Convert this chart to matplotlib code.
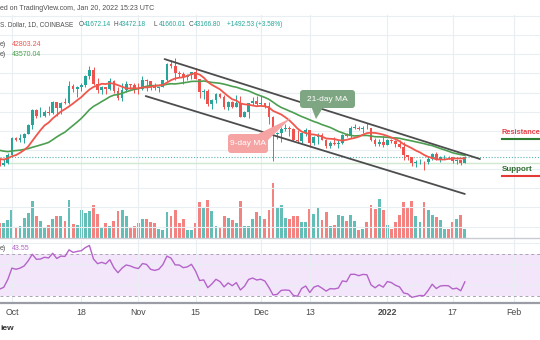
import matplotlib
matplotlib.use("Agg")
import matplotlib.pyplot as plt
import matplotlib.dates as mdates
from matplotlib.patches import FancyBboxPatch, Polygon
import numpy as np
import pandas as pd

plt.rcParams['font.family'] = ['Liberation Sans', 'DejaVu Sans']

# ---------------- data ----------------
# closes before the visible window (warm-up for the moving averages / RSI)
history_start = '2021-08-15'
history_close = [47050, 45950, 44700, 44800, 46700, 49300, 48900, 49300, 49550, 47700,
                 48950, 46850, 49100, 48900, 48800, 46990, 47150,
                 48850, 49300, 50000, 49950, 51750, 52700, 46850, 46100, 46400, 44850,
                 45150, 46050, 44950, 47100, 48150, 47750, 47300, 48300, 47250, 42900,
                 40650, 43550, 44850, 42800, 42700, 43200, 42170]

start_date = '2021-09-28'
close = [41030, 41520, 43790,
         48116, 47711, 48199, 49112, 51514, 55361, 53805, 53967, 54968, 54771, 57484, 56041,
         57401, 57321, 61593, 60892, 61553, 62026, 64262, 65993, 62210, 60693, 61393, 60931,
         63040, 60364, 58483, 60622, 62228, 61889, 61319,
         61004, 63227, 62970, 61453, 61125, 61528, 63327, 67567, 66971, 64995, 64950, 64155,
         64469, 65466, 63557, 60161, 60368, 56942, 58119, 59697, 58730, 56289, 57569, 56281,
         57275, 53569, 54815, 57248, 57807, 56955,
         57229, 56478, 53598, 49200, 49368, 50582, 50700, 50504, 47672, 47243, 49362, 50098,
         46737, 48379, 48864, 47632, 46131, 46834, 46681, 46914, 48890, 48588, 50839, 50850,
         50430, 50800, 50700, 47588, 46444, 47178, 46306,
         47686, 47345, 46458, 45897, 43569, 43160, 41558, 41734, 41912, 41821, 42735, 43949,
         42591, 43099, 43177, 43113, 42250, 42375, 41672.14, 43166.80]
high = [42790, 42600, 44100,
        48450, 48350, 49300, 49500, 51900, 55750, 55800, 56100, 55450, 56550, 57800, 57650,
        57650, 58550, 62900, 62300, 61700, 62600, 64500, 67000, 66650, 63750, 61750, 61500,
        63700, 63300, 61500, 62450, 62950, 62300, 62450,
        62400, 64250, 63500, 63100, 62600, 61550, 63350, 67800, 68550, 69000, 65600, 65450,
        64900, 65500, 66300, 63600, 60800, 60950, 58350, 59850, 60000, 59250, 57850, 57700,
        59400, 59100, 55300, 57400, 58850, 59200,
        59050, 57400, 57600, 53900, 49700, 50900, 51900, 51200, 50800, 50100, 49500, 50750,
        50200, 48650, 49500, 49450, 47950, 47300, 48300, 47500, 49300, 49550, 51350, 51800,
        51150, 51250, 52050, 50700, 48100, 47900, 48550,
        47900, 47950, 47550, 47500, 47050, 43750, 43200, 42300, 42750, 42250, 43050, 44300,
        44450, 43400, 43750, 43450, 43200, 42650, 42500, 43472.18]
low = [40900, 40800, 41400,
       43300, 47400, 47100, 46950, 49100, 50400, 53400, 53650, 53700, 54100, 54450, 53900,
       54300, 56900, 56900, 60200, 58950, 60300, 61400, 63500, 62050, 60000, 59700, 59600,
       60700, 59850, 58100, 57850, 60200, 60800, 59950,
       59550, 60700, 60450, 60700, 60750, 60100, 61400, 63100, 66400, 63400, 64100, 62300,
       63400, 63600, 63450, 58600, 58400, 56500, 55600, 57400, 58500, 55650, 55400, 55850,
       56250, 53500, 53550, 53350, 56750, 56500,
       56500, 55900, 51700, 42000, 47800, 47100, 50050, 48600, 47350, 46900, 46800, 48650,
       45700, 46300, 46600, 47550, 45500, 45600, 46400, 45550, 46650, 48450, 48050, 50450,
       50200, 49500, 50450, 47350, 46100, 45950, 45700,
       46250, 46700, 45700, 45500, 42500, 42450, 40700, 40550, 41250, 39650, 41300, 42500,
       42300, 41850, 42650, 42600, 41550, 41300, 41150, 41660.01]
volume = [15000, 15000, 18000,
          28000, 10000, 12000, 20000, 25000, 37000, 22000, 17000, 11000, 13000, 19000, 22000,
          22000, 17000, 38000, 14000, 13000, 28000, 25000, 27000, 33000, 24000, 10000, 15000,
          12000, 17000, 27000, 28000, 22000, 10000, 12000,
          15000, 19000, 19000, 16000, 15000, 9000, 8000, 26000, 22000, 28000, 15000, 19000,
          8000, 8000, 15000, 36000, 30000, 38000, 27000, 12000, 11000, 22000, 20000, 18000,
          15000, 37000, 12000, 12000, 19000, 26000,
          22000, 19000, 28000, 55000, 31000, 33000, 20000, 19000, 22000, 22000, 16000, 16000,
          29000, 24000, 31000, 18000, 26000, 12000, 13000, 23000, 22000, 17000, 23000, 17000,
          8000, 9000, 16000, 33000, 29000, 39000, 28000,
          13000, 9000, 16000, 23000, 36000, 30000, 37000, 22000, 16000, 36000, 28000, 23000,
          21000, 18000, 9000, 9000, 16000, 19000, 23000, 9000]

# trend channel drawn by the author (date, price)
upper_channel_dates = ['2021-11-07 10:00', '2022-01-23 17:00']
upper_channel_prices = [68745, 42645]
lower_channel_dates = ['2021-11-02 19:00', '2022-01-20 00:00']
lower_channel_prices = [59088, 33510]
support_zone_price = 41600

tick_dates = ['2021-10-01', '2021-10-18', '2021-11-01', '2021-11-15', '2021-12-01',
              '2021-12-13', '2022-01-01', '2022-01-17', '2022-02-01']
tick_labels = ['Oct', '18', 'Nov', '15', 'Dec', '13', '2022', '17', 'Feb']

# ---------------- derived series ----------------
dates = pd.date_range(start_date, periods=len(close), freq='D')
all_close = pd.Series(history_close + close, dtype=float)
n_hist = len(history_close)
opens = np.array(all_close.shift(1).iloc[n_hist:])
closes = np.array(close, dtype=float)
ma9 = all_close.rolling(9).mean().iloc[n_hist:].values
ma21 = all_close.rolling(21).mean().iloc[n_hist:].values
delta = all_close.diff()
gain = delta.clip(lower=0).ewm(alpha=1/14, adjust=False).mean()
loss = (-delta.clip(upper=0)).ewm(alpha=1/14, adjust=False).mean()
rsi = (100 - 100 / (1 + gain / loss)).iloc[n_hist:].values

x = mdates.date2num(dates)
up = closes >= opens
UP, DN = '#26a69a', '#ef5350'
ccol = np.where(up, UP, DN)

# ---------------- figure ----------------
W, H = 540, 340
fig = plt.figure(figsize=(W / 100, H / 100), dpi=100)
fig.patch.set_facecolor('white')

def rect(top, bot):
    return [0, (H - bot) / H, 1, (bot - top) / H]

xlim = (mdates.date2num(pd.Timestamp('2021-09-28 02:00')),
        mdates.date2num(pd.Timestamp('2022-02-07 10:00')))

GRID = '#e9eef3'

# volume (bottom layer)
axv = fig.add_axes(rect(15, 238))
axv.bar(x, volume, width=0.7, color=ccol, alpha=0.72, linewidth=0)
axv.set_xlim(*xlim)
axv.set_ylim(0, 223000)
axv.axis('off')

# price
ax = fig.add_axes(rect(15, 238), sharex=axv)
ax.patch.set_visible(False)
ax.set_ylim(22010, 80260)
ax.set_yticks(np.arange(25000, 80001, 5000))
ax.set_xticks(mdates.date2num(pd.to_datetime(tick_dates)))
ax.grid(True, color=GRID, lw=0.8)
ax.set_axisbelow(True)
ax.tick_params(length=0, labelbottom=False, labelleft=False)
for s in ['top', 'left', 'right']:
    ax.spines[s].set_visible(False)
ax.spines['bottom'].set_color('#c9ccd3')
ax.spines['bottom'].set_linewidth(1.0)

ax.vlines(x, low, high, color=ccol, lw=0.7, zorder=3)
body_h = np.maximum(np.abs(closes - opens), 120)
ax.bar(x, body_h, bottom=np.minimum(opens, closes), width=0.68, color=ccol,
       linewidth=0, zorder=4)
ax.plot(x, ma21, color='#4c9f50', lw=1.2, zorder=5)
ax.plot(x, ma9, color='#f0574c', lw=1.3, zorder=6)

ax.axhline(closes[-1], color=UP, lw=0.8, ls=(0, (1, 1.6)), alpha=0.8, zorder=2)
ax.axhline(support_zone_price, color='#cfe8cf', lw=1.0, zorder=2)

ax.plot(mdates.date2num(pd.to_datetime(upper_channel_dates)), upper_channel_prices,
        color='#4d4d4d', lw=1.3, zorder=7, solid_capstyle='round')
ax.plot(mdates.date2num(pd.to_datetime(lower_channel_dates)), lower_channel_prices,
        color='#4d4d4d', lw=1.3, zorder=7, solid_capstyle='round')

# RSI
axr = fig.add_axes(rect(240, 303), sharex=axv)
axr.set_ylim(23.33, 83.33)
axr.axhspan(30, 70, color='#f3e6fb', lw=0, zorder=0)
axr.set_yticks([40, 60, 80])
axr.grid(True, color=GRID, lw=0.8)
axr.set_axisbelow(True)
for lvl in (30, 70):
    axr.axhline(lvl, color='#a9a3b3', lw=0.7, ls=(0, (3, 3)), zorder=1)
axr.plot(x, rsi, color='#b563c9', lw=1.0, zorder=3)
axr.set_xticks(mdates.date2num(pd.to_datetime(tick_dates)))
axr.set_xticklabels(tick_labels)
axr.tick_params(axis='x', length=0, pad=3.5, labelsize=6.3, labelcolor='#4a4a4a')
axr.tick_params(axis='y', length=0, labelleft=False)
for lab in axr.get_xticklabels():
    if lab.get_text() == '2022':
        lab.set_fontweight('bold')
for s in ['top', 'left', 'right']:
    axr.spines[s].set_visible(False)
axr.spines['bottom'].set_color('#9a9da6')
axr.spines['bottom'].set_linewidth(1.6)
axr.set_xlim(*xlim)

# ---------------- overlay text / drawings (pixel coords) ----------------
ov = fig.add_axes([0, 0, 1, 1])
ov.set_xlim(0, W)
ov.set_ylim(H, 0)
ov.axis('off')
ov.patch.set_visible(False)

GRAY = '#4f4f4f'
TEAL = '#26a69a'
fs = 5.0
fs2 = 4.7
ov.text(0, 8, 'ed on TradingView.com, Jan 20, 2022 15:23 UTC', fontsize=fs, color=GRAY, va='center')
ov.text(0, 25, 'S. Dollar, 1D, COINBASE', fontsize=fs2, color=GRAY, va='center')
for px, lbl, val in [(79, 'O', '41672.14'), (114, 'H', '43472.18'), (154, 'L', '41660.01'),
                     (189, 'C', '43166.80')]:
    ov.text(px, 25, lbl, fontsize=fs2, color=GRAY, va='center')
    ov.text(px + 5.3, 25, val, fontsize=fs2, color=TEAL, va='center')
ov.text(227, 25, '+1492.53 (+3.58%)', fontsize=fs2, color=TEAL, va='center')
ov.text(0, 44, 'e)', fontsize=fs, color=GRAY, va='center')
ov.text(12, 44, '42803.24', fontsize=fs, color='#ef5350', va='center')
ov.text(0, 55, 'e)', fontsize=fs, color=GRAY, va='center')
ov.text(12, 55, '43570.04', fontsize=fs, color='#43a047', va='center')
ov.text(0, 248, 'e)', fontsize=fs, color=GRAY, va='center')
ov.text(12, 248, '43.55', fontsize=fs, color='#b563c9', va='center')
ov.text(0, 329, 'iew', fontsize=6, color='#333333', va='center', fontweight='bold')

# 21-day MA callout
ov.add_patch(Polygon([(311, 106), (324, 106), (316, 119)], closed=True, fc='#7fa682', ec='none'))
ov.add_patch(FancyBboxPatch((300, 90), 55, 18, boxstyle='round,pad=0,rounding_size=3',
                            fc='#7fa682', ec='none'))
ov.text(327.5, 99.5, '21-day MA', fontsize=6, color='white', ha='center', va='center')

# 9-day MA callout
ov.add_patch(Polygon([(256, 135), (266, 142), (291, 118)], closed=True, fc='#f6a3a3', ec='none'))
ov.add_patch(FancyBboxPatch((228, 134), 40, 19, boxstyle='round,pad=0,rounding_size=3',
                            fc='#f6a3a3', ec='none'))
ov.text(248, 143.5, '9-day MA', fontsize=6, color='white', ha='center', va='center')

# Resistance / Support labels
ov.text(502, 132.5, 'Resistance', fontsize=5.3, color='#e8414a', fontweight='bold', va='center')
ov.plot([502, 540], [138.5, 138.5], color='#2e7d32', lw=1.5)
ov.text(502, 169.5, 'Support', fontsize=5.8, color='#2e6b2e', fontweight='bold', va='center')
ov.plot([502, 540], [175.5, 175.5], color='#e53935', lw=1.5)

fig.savefig('out.png', dpi=100)
